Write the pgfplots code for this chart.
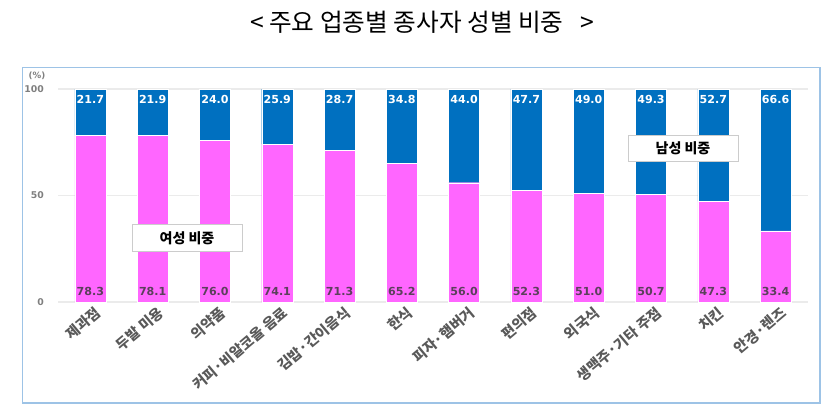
\documentclass[border=0pt]{standalone}
\usepackage{pgfplots}
\pgfplotsset{compat=1.18}
\usepackage{fontspec}
\setmainfont{Noto Sans CJK KR}
\newfontfamily\dv{DejaVu Sans}
\definecolor{fpink}{HTML}{FF66FF}
\definecolor{mblue}{HTML}{0070C0}
\definecolor{frameblue}{HTML}{9DC3E6}
\definecolor{tickgray}{HTML}{7F7F7F}
\definecolor{labgray}{HTML}{595959}
\definecolor{pinklab}{HTML}{5B405B}
\begin{document}
\begin{tikzpicture}[x=0.75pt,y=0.75pt]
\useasboundingbox (0,0) rectangle (840,411);
\draw[frameblue,line width=0.9pt] (22.5,343.5) rectangle (820,8);
\node[font=\fontsize{18.5}{20}\selectfont] at (422,389) {<\ 주요 업종별 종사자 성별 비중 \ \ >};
\node[font=\dv\bfseries\fontsize{6.5}{7}\selectfont,text=tickgray] at (37,335) {(\%)};
\begin{axis}[
  at={(43.5pt,81.75pt)}, anchor=south west,
  scale only axis,
  width=562.5pt, height=159.75pt,
  xmin=-0.52, xmax=11.52,
  ymin=0, ymax=100,
  ybar stacked, bar width=23.3pt,
  axis line style={draw=none},
  ytick={0,50,100},
  ymajorgrids, grid style={draw=black!8, line width=0.8pt},
  major tick length=0pt,
  /pgf/number format/assume math mode=true,
  yticklabel style={font=\dv\bfseries\fontsize{7}{8}\selectfont, text=tickgray, xshift=-7pt},
  xtick={0,...,11},
  xticklabels={제과점,두발 미용,의약품,커피·비알코올 음료,김밥·간이음식,한식,피자·햄버거,편의점,외국식,생맥주·기타 주점,치킨,안경·렌즈},
  xticklabel style={font=\bfseries\fontsize{10.8}{11}\selectfont, text=labgray, rotate=40, anchor=east, xshift=4pt, yshift=-9pt},
  clip=false,
]
\addplot[fill=fpink, draw=white, line width=0.3pt] coordinates {(0,78.3) (1,78.1) (2,76.0) (3,74.1) (4,71.3) (5,65.2) (6,56.0) (7,52.3) (8,51.0) (9,50.7) (10,47.3) (11,33.4)};
\addplot[fill=mblue, draw=white, line width=0.3pt] coordinates {(0,21.7) (1,21.9) (2,24.0) (3,25.9) (4,28.7) (5,34.8) (6,44.0) (7,47.7) (8,49.0) (9,49.3) (10,52.7) (11,66.6)};
\end{axis}
\foreach \i/\f/\m in {0/78.3/21.7,1/78.1/21.9,2/76.0/24.0,3/74.1/25.9,4/71.3/28.7,5/65.2/34.8,6/56.0/44.0,7/52.3/47.7,8/51.0/49.0,9/50.7/49.3,10/47.3/52.7,11/33.4/66.6}{
  \node[font=\dv\bfseries\fontsize{8.3}{9}\selectfont, text=pinklab] at ({58+(\i+0.52)*62.29},120) {\f};
  \node[font=\dv\bfseries\fontsize{8.3}{9}\selectfont, text=white] at ({58+(\i+0.52)*62.29},312) {\m};
}
\node[draw=black!20, fill=white, font=\bfseries\fontsize{10.5}{11}\selectfont, minimum width=82.5pt, minimum height=20pt, inner sep=0pt] at (187,173) {여성 비중};
\node[draw=black!20, fill=white, font=\bfseries\fontsize{10.5}{11}\selectfont, minimum width=82.5pt, minimum height=19.5pt, inner sep=0pt] at (683,263) {남성 비중};
\end{tikzpicture}
\end{document}
